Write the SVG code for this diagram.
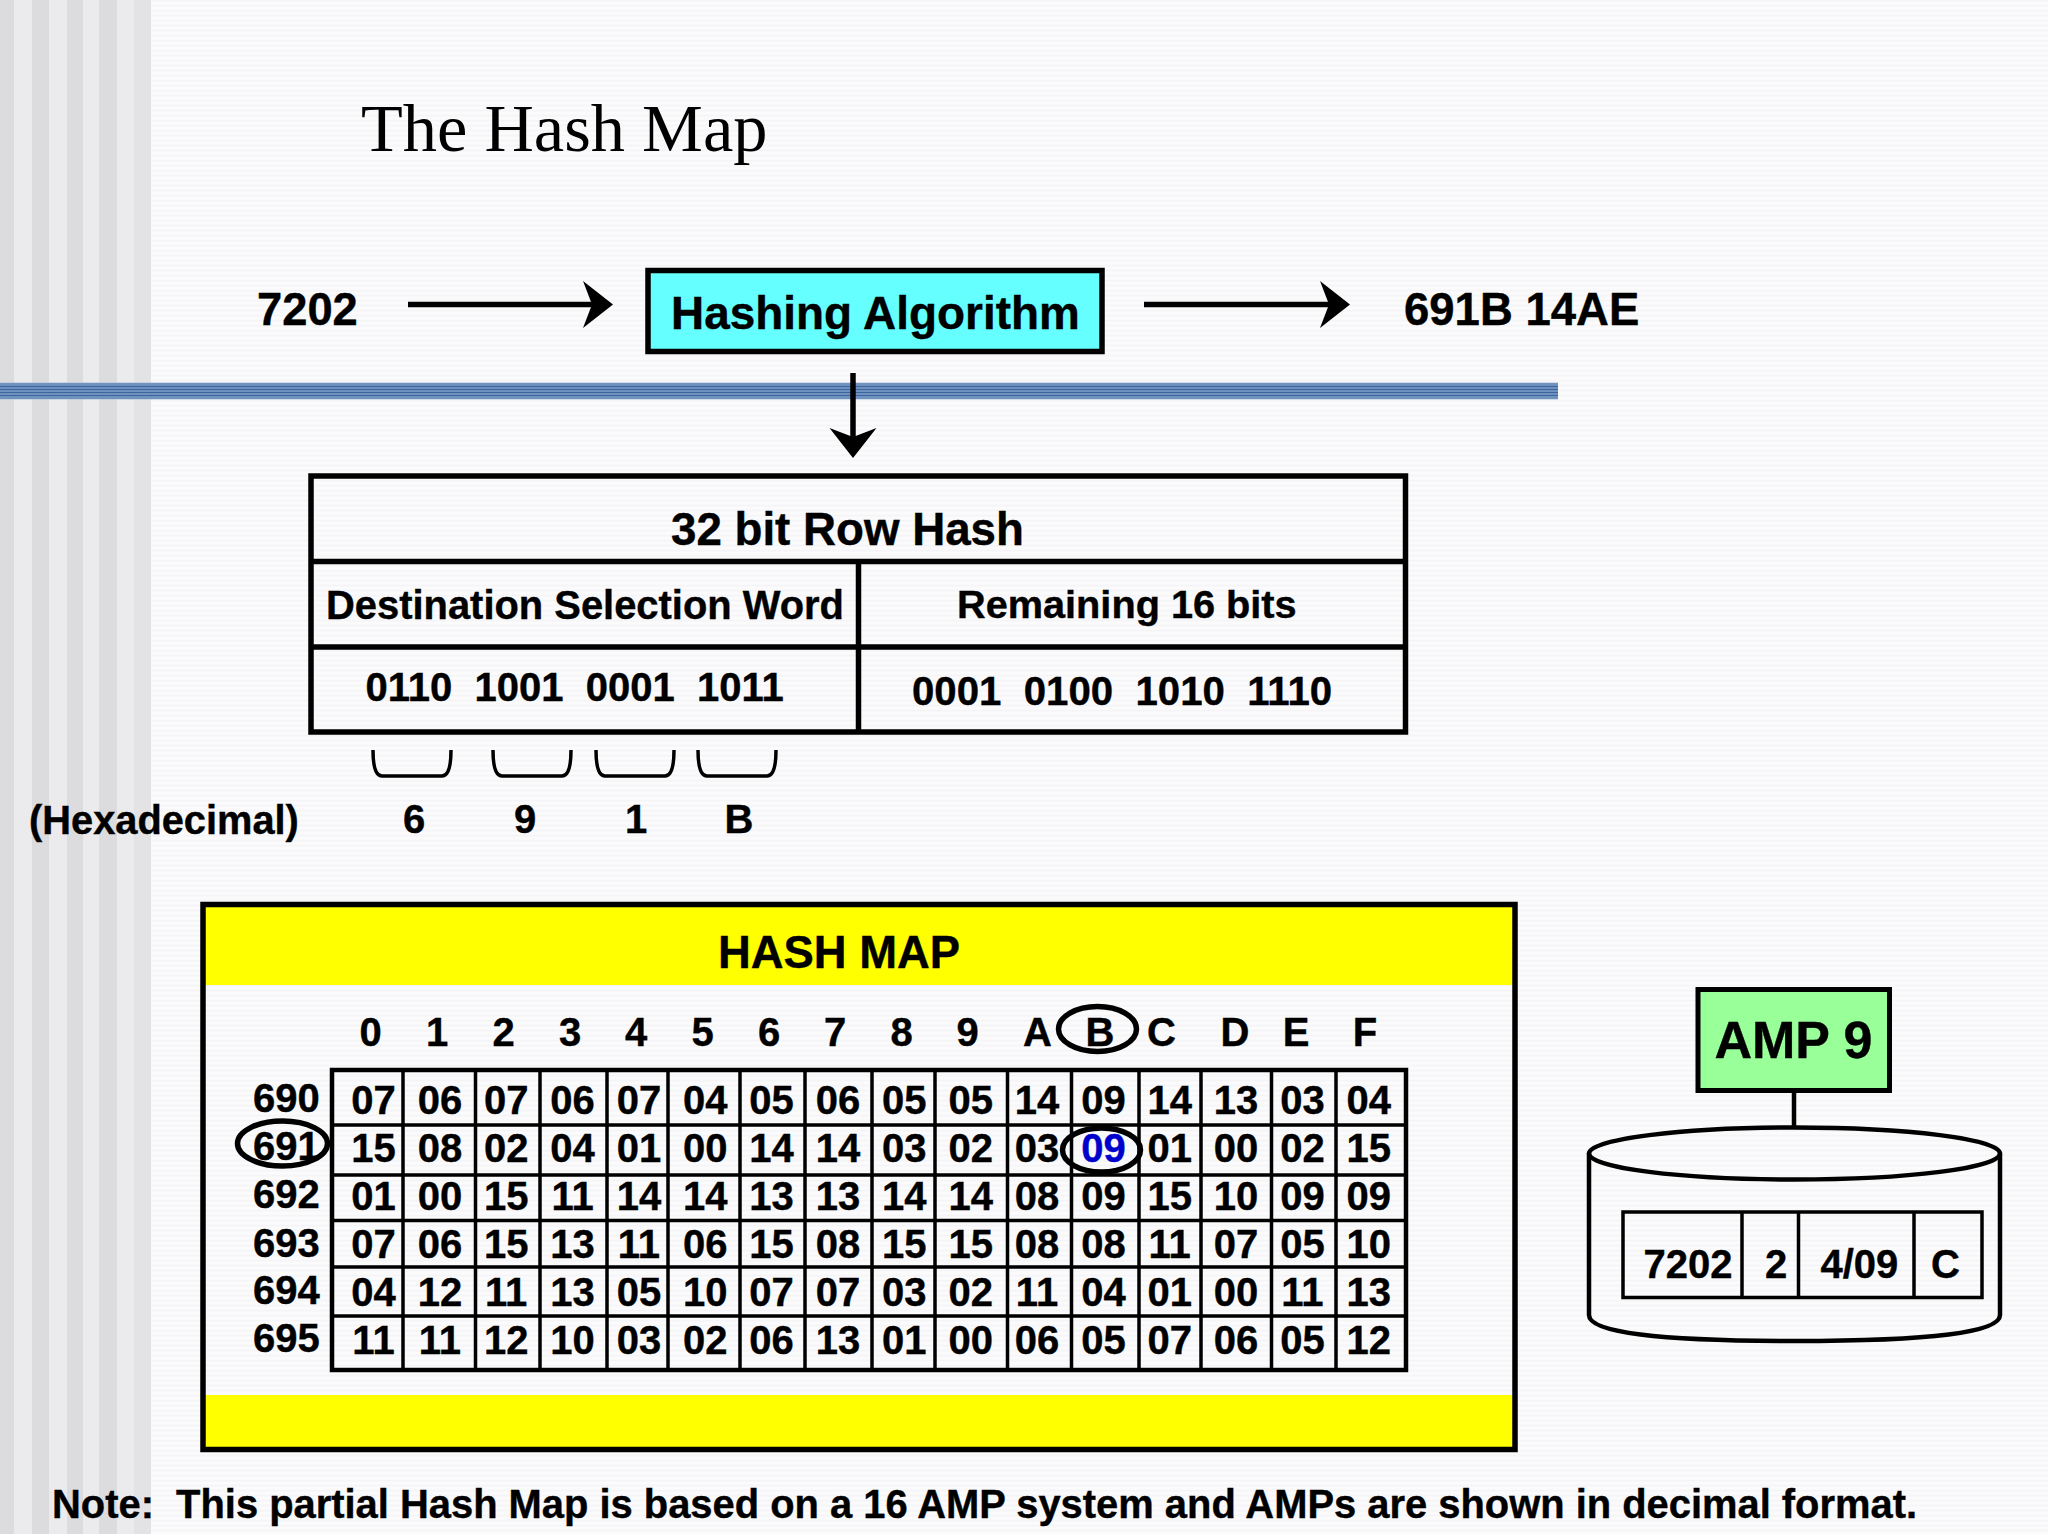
<svg xmlns="http://www.w3.org/2000/svg" width="2048" height="1534" viewBox="0 0 2048 1534">
<style>
text{font-family:"Liberation Sans",Arial,sans-serif;font-weight:bold;fill:#000;stroke:#000;stroke-width:.4;white-space:pre}
.t40{font-size:40px}
.t45{font-size:45.3px}
.c{font-size:40px;text-anchor:middle}
.box{stroke:#000;stroke-width:5.5;fill:none}
.thin{stroke:#000;stroke-width:3.5;fill:none}
.ln{stroke:#000;stroke-width:5.5;fill:none}
.arrow{stroke:#000;stroke-width:5.5;fill:none;marker-end:url(#head)}
.ring{stroke:#000;stroke-width:5.5;fill:none}
.brace{stroke:#000;stroke-width:3.5;fill:none}
.y{fill:#ffff00}
.dk{fill:#dcdcde}
.lt{fill:#ebebed}
</style>
<defs>
<marker id="head" markerUnits="userSpaceOnUse" markerWidth="32" markerHeight="48" refX="9" refY="23.5" orient="auto">
<path d="M0 0L30 23.5L0 47L9 23.5Z" fill="#000"/>
</marker>
<pattern id="bg" width="9" height="5" patternUnits="userSpaceOnUse">
<rect width="9" height="5" fill="#f9f9fb"/>
<rect width="9" height="1.2" fill="#f5f5f8"/>
<rect y="2.5" width="9" height="1" fill="#fdfdfe"/>
</pattern>
<pattern id="band" width="10" height="3" y="383" patternUnits="userSpaceOnUse">
<rect width="10" height="3" fill="#6d92c0"/>
<rect width="10" height="1" fill="#40659c"/>
</pattern>
</defs>
<g id="background">
<rect width="2048" height="1534" fill="url(#bg)"/>
<rect class="dk" x="0" width="14" height="1534"/>
<rect class="lt" x="14" width="18" height="1534"/>
<rect class="dk" x="32" width="17" height="1534"/>
<rect class="lt" x="49" width="18" height="1534"/>
<rect class="dk" x="67" width="16" height="1534"/>
<rect class="lt" x="83" width="16" height="1534"/>
<rect class="dk" x="99" width="18" height="1534"/>
<rect class="lt" x="117" width="17" height="1534"/>
<rect x="134" width="17" height="1534" fill="#e3e3e5"/>
<rect y="382.5" width="1558" height="17" fill="#a9bfdb"/>
<rect y="383.5" width="1558" height="15" fill="url(#band)"/>
</g>
<text id="title" x="361" y="151" style="font-family:'Liberation Serif','Times New Roman',serif;font-weight:normal;font-size:68.4px;stroke:none">The Hash Map</text>
<g id="connectors">
<path class="arrow" d="M408 304.5H592"/>
<path class="arrow" d="M1144 304.5H1329"/>
<path class="arrow" d="M853 373V437"/>
<path class="brace" d="M373 750Q373 776 382 776H442Q451 776 451 750"/>
<path class="brace" d="M493 750Q493 776 502 776H562Q571 776 571 750"/>
<path class="brace" d="M596 750Q596 776 605 776H665Q674 776 674 750"/>
<path class="brace" d="M698 750Q698 776 707 776H767Q776 776 776 750"/>
<path d="M1794 1093V1127" stroke="#000" stroke-width="4.5" fill="none"/>
</g>
<g id="input"><text class="t45" x="257" y="325">7202</text></g>
<g id="hashing-algorithm">
<rect class="box" x="648" y="270.5" width="454" height="81" style="fill:#66ffff"/>
<text x="671" y="328.5" style="font-size:45.9px">Hashing Algorithm</text>
</g>
<g id="output"><text x="1404" y="325" style="font-size:45.5px">691B 14AE</text></g>
<g id="row-hash">
<rect class="box" x="311" y="476" width="1094.5" height="256"/>
<path class="ln" d="M311 561.5H1405.5M311 647H1405.5M858.5 561.5V732"/>
<text x="671" y="544.5" style="font-size:45.7px">32 bit Row Hash</text>
<text x="326" y="619" style="font-size:39.9px">Destination Selection Word</text>
<text x="957" y="618" style="font-size:39.7px">Remaining 16 bits</text>
<text x="365.5" y="701" style="font-size:40px">0110  1001  0001  1011</text>
<text x="912" y="705" style="font-size:40.2px">0001  0100  1010  1110</text>
</g>
<g id="hexadecimal">
<text x="29" y="833.5" style="font-size:39.8px">(Hexadecimal)</text>
<text class="c" x="414" y="833">6</text>
<text class="c" x="525" y="833">9</text>
<text class="c" x="636" y="833">1</text>
<text class="c" x="739" y="833">B</text>
</g>
<g id="hash-map">
<rect class="y" x="205" y="907" width="1308" height="78"/>
<rect class="y" x="205" y="1395" width="1308" height="52"/>
<rect class="box" x="203" y="904.5" width="1312" height="545"/>
<text x="718" y="968" style="font-size:45.4px">HASH MAP</text>
<g id="col-headers">
<text class="c" x="370.5" y="1046">0</text>
<text class="c" x="437" y="1046">1</text>
<text class="c" x="503.5" y="1046">2</text>
<text class="c" x="570" y="1046">3</text>
<text class="c" x="636" y="1046">4</text>
<text class="c" x="702.5" y="1046">5</text>
<text class="c" x="769" y="1046">6</text>
<text class="c" x="835" y="1046">7</text>
<text class="c" x="901.5" y="1046">8</text>
<text class="c" x="967.5" y="1046">9</text>
<text class="c" x="1037.5" y="1046">A</text>
<text class="c" x="1100" y="1046">B</text>
<text class="c" x="1161.5" y="1046">C</text>
<text class="c" x="1235" y="1046">D</text>
<text class="c" x="1296" y="1046">E</text>
<text class="c" x="1365" y="1046">F</text>
</g>
<g id="row-headers">
<text class="t40" x="253" y="1112">690</text>
<text class="t40" x="253" y="1160">691</text>
<text class="t40" x="253" y="1208">692</text>
<text class="t40" x="253" y="1257">693</text>
<text class="t40" x="253" y="1304">694</text>
<text class="t40" x="253" y="1352">695</text>
</g>
<g id="grid">
<rect x="332" y="1070" width="1074" height="300" stroke="#000" stroke-width="4.5" fill="none"/>
<path class="thin" d="M332 1125H1406M332 1175H1406M332 1220.5H1406M332 1267H1406M332 1316H1406"/>
<path class="thin" d="M403 1070V1370M475.5 1070V1370M540 1070V1370M607 1070V1370M668 1070V1370M740 1070V1370M805 1070V1370M872 1070V1370M935 1070V1370M1007.5 1070V1370M1071.5 1070V1370M1139 1070V1370M1201 1070V1370M1271.5 1070V1370M1336 1070V1370"/>
</g>
<g id="row-690">
<text class="c" x="373.5" y="1114">07</text><text class="c" x="439.9" y="1114">06</text><text class="c" x="506.2" y="1114">07</text><text class="c" x="572.6" y="1114">06</text><text class="c" x="638.9" y="1114">07</text><text class="c" x="705.3" y="1114">04</text><text class="c" x="771.6" y="1114">05</text><text class="c" x="837.9" y="1114">06</text><text class="c" x="904.3" y="1114">05</text><text class="c" x="970.7" y="1114">05</text><text class="c" x="1037" y="1114">14</text><text class="c" x="1103.4" y="1114">09</text><text class="c" x="1169.7" y="1114">14</text><text class="c" x="1236" y="1114">13</text><text class="c" x="1302.4" y="1114">03</text><text class="c" x="1368.8" y="1114">04</text>
</g>
<g id="row-691">
<text class="c" x="373.5" y="1162">15</text><text class="c" x="439.9" y="1162">08</text><text class="c" x="506.2" y="1162">02</text><text class="c" x="572.6" y="1162">04</text><text class="c" x="638.9" y="1162">01</text><text class="c" x="705.3" y="1162">00</text><text class="c" x="771.6" y="1162">14</text><text class="c" x="837.9" y="1162">14</text><text class="c" x="904.3" y="1162">03</text><text class="c" x="970.7" y="1162">02</text><text class="c" x="1037" y="1162">03</text><text class="c" x="1103.4" y="1162" style="fill:#0000cc;stroke:#0000cc">09</text><text class="c" x="1169.7" y="1162">01</text><text class="c" x="1236" y="1162">00</text><text class="c" x="1302.4" y="1162">02</text><text class="c" x="1368.8" y="1162">15</text>
</g>
<g id="row-692">
<text class="c" x="373.5" y="1210">01</text><text class="c" x="439.9" y="1210">00</text><text class="c" x="506.2" y="1210">15</text><text class="c" x="572.6" y="1210">11</text><text class="c" x="638.9" y="1210">14</text><text class="c" x="705.3" y="1210">14</text><text class="c" x="771.6" y="1210">13</text><text class="c" x="837.9" y="1210">13</text><text class="c" x="904.3" y="1210">14</text><text class="c" x="970.7" y="1210">14</text><text class="c" x="1037" y="1210">08</text><text class="c" x="1103.4" y="1210">09</text><text class="c" x="1169.7" y="1210">15</text><text class="c" x="1236" y="1210">10</text><text class="c" x="1302.4" y="1210">09</text><text class="c" x="1368.8" y="1210">09</text>
</g>
<g id="row-693">
<text class="c" x="373.5" y="1258">07</text><text class="c" x="439.9" y="1258">06</text><text class="c" x="506.2" y="1258">15</text><text class="c" x="572.6" y="1258">13</text><text class="c" x="638.9" y="1258">11</text><text class="c" x="705.3" y="1258">06</text><text class="c" x="771.6" y="1258">15</text><text class="c" x="837.9" y="1258">08</text><text class="c" x="904.3" y="1258">15</text><text class="c" x="970.7" y="1258">15</text><text class="c" x="1037" y="1258">08</text><text class="c" x="1103.4" y="1258">08</text><text class="c" x="1169.7" y="1258">11</text><text class="c" x="1236" y="1258">07</text><text class="c" x="1302.4" y="1258">05</text><text class="c" x="1368.8" y="1258">10</text>
</g>
<g id="row-694">
<text class="c" x="373.5" y="1306">04</text><text class="c" x="439.9" y="1306">12</text><text class="c" x="506.2" y="1306">11</text><text class="c" x="572.6" y="1306">13</text><text class="c" x="638.9" y="1306">05</text><text class="c" x="705.3" y="1306">10</text><text class="c" x="771.6" y="1306">07</text><text class="c" x="837.9" y="1306">07</text><text class="c" x="904.3" y="1306">03</text><text class="c" x="970.7" y="1306">02</text><text class="c" x="1037" y="1306">11</text><text class="c" x="1103.4" y="1306">04</text><text class="c" x="1169.7" y="1306">01</text><text class="c" x="1236" y="1306">00</text><text class="c" x="1302.4" y="1306">11</text><text class="c" x="1368.8" y="1306">13</text>
</g>
<g id="row-695">
<text class="c" x="373.5" y="1354">11</text><text class="c" x="439.9" y="1354">11</text><text class="c" x="506.2" y="1354">12</text><text class="c" x="572.6" y="1354">10</text><text class="c" x="638.9" y="1354">03</text><text class="c" x="705.3" y="1354">02</text><text class="c" x="771.6" y="1354">06</text><text class="c" x="837.9" y="1354">13</text><text class="c" x="904.3" y="1354">01</text><text class="c" x="970.7" y="1354">00</text><text class="c" x="1037" y="1354">06</text><text class="c" x="1103.4" y="1354">05</text><text class="c" x="1169.7" y="1354">07</text><text class="c" x="1236" y="1354">06</text><text class="c" x="1302.4" y="1354">05</text><text class="c" x="1368.8" y="1354">12</text>
</g>
<g id="highlights">
<ellipse class="ring" cx="282.5" cy="1143.5" rx="45" ry="22.5"/>
<ellipse class="ring" cx="1097.5" cy="1029" rx="39" ry="22.5"/>
<ellipse class="ring" cx="1101.5" cy="1150" rx="39" ry="22"/>
</g>
</g>
<g id="amp-9">
<rect x="1698" y="989.5" width="191.5" height="101" fill="#99ff99" stroke="#000" stroke-width="5"/>
<text x="1714.5" y="1058" style="font-size:52px">AMP 9</text>
</g>
<g id="disk">
<path d="M1589 1153.5V1315Q1589 1341 1794.5 1341Q2000 1341 2000 1315V1153.5" stroke="#000" stroke-width="4.5" fill="none"/>
<ellipse cx="1794.5" cy="1153.5" rx="205.5" ry="26" stroke="#000" stroke-width="4.5" fill="none"/>
<rect x="1623" y="1212" width="359" height="85.5" stroke="#000" stroke-width="3.5" fill="none"/>
<path class="thin" d="M1742 1212V1297.5M1798.5 1212V1297.5M1914 1212V1297.5"/>
<text class="t40" x="1643.5" y="1278">7202</text>
<text class="t40" x="1765" y="1278">2</text>
<text class="t40" x="1820.5" y="1278">4/09</text>
<text class="t40" x="1931" y="1278">C</text>
</g>
<text id="note" x="52" y="1517.5" style="font-size:39.9px">Note:  This partial Hash Map is based on a 16 AMP system and AMPs are shown in decimal format.</text>
</svg>
